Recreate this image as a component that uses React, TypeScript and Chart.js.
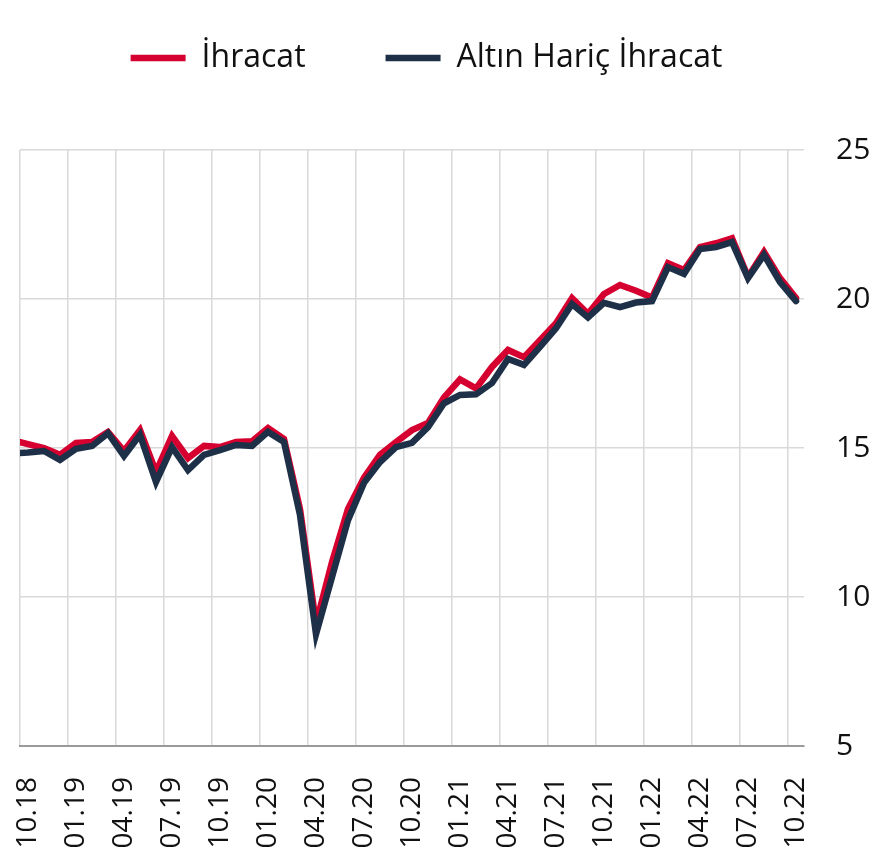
import React, { useEffect, useRef } from 'react';
import { Chart, registerables } from 'chart.js';

Chart.register(...registerables);

// Months (first one only feeds the line segment that enters at the left edge)
const months = [
  '09.18', '10.18', '11.18', '12.18',
  '01.19', '02.19', '03.19', '04.19', '05.19', '06.19', '07.19', '08.19', '09.19', '10.19', '11.19', '12.19',
  '01.20', '02.20', '03.20', '04.20', '05.20', '06.20', '07.20', '08.20', '09.20', '10.20', '11.20', '12.20',
  '01.21', '02.21', '03.21', '04.21', '05.21', '06.21', '07.21', '08.21', '09.21', '10.21', '11.21', '12.21',
  '01.22', '02.22', '03.22', '04.22', '05.22', '06.22', '07.22', '08.22', '09.22', '10.22',
];

const ihracat = [
  15.26, 15.13, 15.0, 14.77,
  15.17, 15.2, 15.54, 14.9, 15.6, 14.2, 15.4, 14.66, 15.07, 15.03, 15.2, 15.23,
  15.67, 15.3, 12.95, 9.1, 11.17, 12.95, 14.0, 14.77, 15.2, 15.6, 15.84, 16.7,
  17.3, 17.0, 17.72, 18.29, 18.05, 18.62, 19.19, 20.03, 19.5, 20.17, 20.47, 20.28,
  20.05, 21.2, 20.97, 21.74, 21.87, 22.04, 20.74, 21.58, 20.7, 20.03,
];

const altinHaricIhracat = [
  14.82, 14.85, 14.9, 14.6,
  14.97, 15.07, 15.5, 14.73, 15.44, 13.86, 15.03, 14.26, 14.77, 14.93, 15.1, 15.07,
  15.54, 15.2, 12.75, 8.75, 10.67, 12.58, 13.83, 14.53, 15.03, 15.17, 15.7, 16.5,
  16.78, 16.8, 17.18, 17.99, 17.79, 18.39, 19.02, 19.83, 19.38, 19.87, 19.73, 19.88,
  19.93, 21.07, 20.84, 21.68, 21.74, 21.91, 20.7, 21.48, 20.57, 19.93,
];

const xTickLabels = [
  '10.18', '01.19', '04.19', '07.19', '10.19', '01.20', '04.20', '07.20', '10.20',
  '01.21', '04.21', '07.21', '10.21', '01.22', '04.22', '07.22', '10.22',
];

const yTicks = [5, 10, 15, 20, 25];

const FONT = "'Open Sans', sans-serif";
const TEXT = '#111111';
const RED = '#D5002F';
const NAVY = '#1E3047';
const GRID = '#d9d9d9';

const legendSpacer = {
  id: 'legendSpacer',
  beforeInit(chart: any) {
    const legend = chart.legend;
    if (!legend) return;
    const orig = legend.fit;
    legend.fit = function () {
      orig.call(this);
      this.height = 188;
    };
  },
  afterLayout(chart: any) {
    const legend = chart.legend;
    if (!legend) return;
    legend.left -= 20;
    legend.right -= 20;
  },
};

export default function App() {
  const ref = useRef<HTMLCanvasElement>(null);

  useEffect(() => {
    if (!ref.current) return;
    const first = months.indexOf(xTickLabels[0]);
    const lastX = months.length - 1 - first;
    const toPts = (arr: number[]) => arr.map((v, i) => ({ x: i - first, y: v }));

    const chart = new Chart(ref.current, {
      type: 'line',
      data: {
        datasets: [
          {
            label: 'İhracat',
            data: toPts(ihracat),
            borderColor: RED,
            backgroundColor: RED,
            borderWidth: 6.5,
            borderCapStyle: 'round',
            pointRadius: 0,
            tension: 0,
            order: 2,
          },
          {
            label: 'Altın Hariç İhracat',
            data: toPts(altinHaricIhracat),
            borderColor: NAVY,
            backgroundColor: NAVY,
            borderWidth: 6.5,
            borderCapStyle: 'round',
            pointRadius: 0,
            tension: 0,
            order: 1,
          },
        ],
      },
      options: {
        animation: false,
        responsive: true,
        maintainAspectRatio: false,
        layout: { padding: { top: -38, left: 20, right: 0, bottom: 8 } },
        plugins: {
          legend: {
            position: 'top',
            align: 'center',
            labels: {
              font: { family: FONT, size: 32 },
              color: TEXT,
              usePointStyle: true,
              pointStyle: 'line',
              pointStyleWidth: 55,
              padding: 80,
              sort: (a: any, b: any) => a.datasetIndex - b.datasetIndex,
            },
          },
          tooltip: { enabled: false },
        },
        scales: {
          x: {
            type: 'linear',
            min: -0.5,
            max: lastX + 0.5,
            afterBuildTicks: (s: any) => {
              s.ticks = xTickLabels.map((_, k) => ({ value: k * 3 - 0.5 }));
            },
            afterFit: (s: any) => {
              s.height = 105;
              s.paddingLeft = 0;
              s.paddingRight = 0;
            },
            ticks: {
              autoSkip: false,
              minRotation: 90,
              maxRotation: 90,
              labelOffset: 8,
              padding: 31,
              font: { family: FONT, size: 28 },
              color: TEXT,
              callback: (v: any) => xTickLabels[Math.round((Number(v) + 0.5) / 3)] ?? '',
            },
            grid: { color: GRID, lineWidth: 1.5, drawTicks: false },
            border: { display: true, color: '#9a9a9a', width: 2 },
          },
          y: {
            position: 'right',
            min: 5,
            max: 25,
            afterBuildTicks: (s: any) => {
              s.ticks = yTicks.map((v) => ({ value: v }));
            },
            afterFit: (s: any) => {
              s.width = 69;
            },
            ticks: {
              padding: 32,
              font: { family: FONT, size: 30 },
              color: TEXT,
            },
            grid: { color: GRID, lineWidth: 1.5, drawTicks: false },
            border: { display: false },
          },
        },
      },
      plugins: [legendSpacer],
    } as any);

    return () => chart.destroy();
  }, []);

  return (
    <div style={{ position: 'absolute', left: 0, top: 0, width: 873, height: 859, background: '#fff' }}>
      <canvas ref={ref} />
    </div>
  );
}
